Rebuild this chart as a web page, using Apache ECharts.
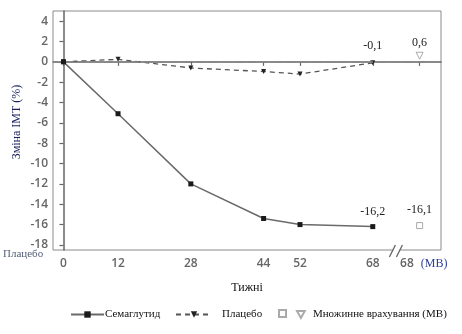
<!DOCTYPE html>
<html><head><meta charset="utf-8">
<script src="https://cdn.jsdelivr.net/npm/echarts@6/dist/echarts.min.js"></script>
<style>html,body{margin:0;padding:0;background:#fff}#c{width:462px;height:334px}</style>
</head><body><div id="c"></div>
<script>
const weeks = [0, 12, 28, 44, 52, 68];
const semaglutide = [0, -5.1, -12.0, -15.4, -16.0, -16.2];
const placebo = [0, 0.25, -0.6, -0.95, -1.2, -0.1];
const mbWeek = 78.3;           // position of the "68 (МВ)" column
const mbSemaglutide = -16.1;
const mbPlacebo = 0.6;
const yTicks = [-18, -16, -14, -12, -10, -8, -6, -4, -2, 0, 2, 4];
const xTickValues = [0, 12, 28, 44, 52, 68, 78.3];
const xLabelValues = [0, 12, 28, 44, 52, 68, 75.5, 81.5];
const xLabelText = ['0', '12', '28', '44', '52', '68', '68', '{mb|(МВ)}'];
const semaLabelText = '-16,2';
const placeboLabelText = '-0,1';
const mbSemaLabel = '-16,1';
const mbPlaceboLabel = '0,6';
const breakAt = 73.2;

const serif = '"Liberation Serif","Times New Roman",serif';
const sans = '"Open Sans","DejaVu Sans",sans-serif';
const chart = echarts.init(document.getElementById('c'));

const lblStyle = {fontFamily: serif, fontSize: 12, color: '#222'};
const downTri = 'path://M0,0L10,0L5,9Z';

chart.setOption({
  animation: false,
  grid: {left: 53, right: 21, top: 11, bottom: 84, show: true, borderColor: '#8a8a8a', borderWidth: 1},
  xAxis: {
    type: 'value', min: -2.3, max: 83,
    splitLine: {show: false},
    axisLine: {lineStyle: {color: '#666', width: 1.5}},
    axisTick: {show: true, length: 4, lineStyle: {color: '#666', width: 1.2}, customValues: xTickValues},
    axisLabel: {
      customValues: xLabelValues, margin: 8,
      fontFamily: sans, fontSize: 12, fontWeight: 600, color: '#666',
      formatter: v => { const i = xLabelValues.indexOf(v); return i >= 0 ? xLabelText[i] : ''; },
      rich: {mb: {fontFamily: serif, fontSize: 12, fontWeight: 'normal', color: '#2a3f9a'}}
    },
    name: 'Тижні', nameLocation: 'middle', nameGap: 32,
    nameTextStyle: {fontFamily: serif, fontSize: 12, color: '#111'}
  },
  yAxis: {
    type: 'value', min: -18.5, max: 5,
    splitLine: {show: false},
    axisLine: {show: true, lineStyle: {color: '#666', width: 1.5}},
    axisTick: {show: true, length: 4, lineStyle: {color: '#666', width: 1.2}, customValues: yTicks},
    axisLabel: {customValues: yTicks, margin: 5, fontFamily: sans, fontSize: 12, fontWeight: 600, color: '#666'}
  },
  legend: [
    {data: ['Семаглутид'], left: 70, top: 309, padding: 0, itemWidth: 33, itemHeight: 8, itemGap: 0,
     textStyle: {fontFamily: serif, fontSize: 11, color: '#111', padding: [10, 0, 0, -4]}},
    {data: ['Плацебо'], left: 175, top: 309, padding: 0, itemWidth: 36, itemHeight: 8,
     textStyle: {fontFamily: serif, fontSize: 11, color: '#111', padding: [0, 0, 0, 5]}},
    {data: [{name: 'МВ1', icon: 'rect'}], left: 278, top: 309, padding: 0, itemWidth: 7, itemHeight: 7, formatter: () => ''},
    {data: [{name: 'Множинне врахування (МВ)', icon: downTri}], left: 296, top: 309, padding: 0, itemWidth: 8, itemHeight: 7,
     textStyle: {fontFamily: serif, fontSize: 11, color: '#111', padding: [0, 0, 0, 3]}}
  ],
  graphic: [
    {type: 'text', left: 3, top: 249, style: {text: 'Плацебо', font: '11px ' + serif, fill: '#56607a'}},
    {type: 'text', x: 17, y: 122, rotation: Math.PI / 2, style: {text: 'Зміна ІМТ (%)', font: '12px ' + serif, fill: '#1c2460', align: 'center', verticalAlign: 'middle'}}
  ],
  series: [
    {
      name: 'Плацебо', type: 'line', z: 3,
      data: weeks.map((w, i) => ({
        value: [w, placebo[i]],
        label: i === weeks.length - 1 ? {show: true, position: 'top', distance: 9, formatter: placeboLabelText, ...lblStyle} : {show: false}
      })),
      symbol: 'triangle', symbolRotate: 180, symbolSize: 5,
      lineStyle: {color: '#555', width: 1.3, type: [5, 4]},
      itemStyle: {color: '#222'},
      markLine: {
        silent: true, symbol: 'none', label: {show: false},
        lineStyle: {color: '#888', width: 1.5, type: [8, 5]},
        data: [{yAxis: 0}]
      }
    },
    {
      name: 'Семаглутид', type: 'line', z: 4,
      data: weeks.map((w, i) => ({
        value: [w, semaglutide[i]],
        label: i === weeks.length - 1 ? {show: true, position: 'top', distance: 6, formatter: semaLabelText, ...lblStyle} : {show: false}
      })),
      symbol: 'rect', symbolSize: 5,
      lineStyle: {color: '#6a6a6a', width: 1.5},
      itemStyle: {color: '#1a1a1a'}
    },
    {
      name: 'МВ1', type: 'scatter', z: 4,
      data: [{value: [mbWeek, mbSemaglutide], label: {show: true, position: 'top', distance: 6, formatter: mbSemaLabel, ...lblStyle}}],
      symbol: 'rect', symbolSize: 6,
      itemStyle: {color: '#fff', borderColor: '#aaa', borderWidth: 1, opacity: 1}
    },
    {
      name: 'Множинне врахування (МВ)', type: 'scatter', z: 4,
      data: [{value: [mbWeek, mbPlacebo], label: {show: true, position: 'top', distance: 3, formatter: mbPlaceboLabel, ...lblStyle}}],
      symbol: 'triangle', symbolRotate: 180, symbolSize: 7,
      itemStyle: {color: '#fff', borderColor: '#aaa', borderWidth: 1, opacity: 1}
    },
    {
      type: 'custom', z: 10, clip: false, silent: true,
      data: [[breakAt, -18.5]],
      renderItem: (params, api) => {
        const p = api.coord([api.value(0), api.value(1)]);
        return {type: 'group', children: [
          {type: 'rect', shape: {x: p[0] - 3, y: p[1] - 2, width: 6, height: 4}, style: {fill: '#fff'}},
          {type: 'line', shape: {x1: p[0] - 7, y1: p[1] + 7, x2: p[0] - 1, y2: p[1] - 5}, style: {stroke: '#666', lineWidth: 1.3}},
          {type: 'line', shape: {x1: p[0] + 0, y1: p[1] + 7, x2: p[0] + 6, y2: p[1] - 5}, style: {stroke: '#666', lineWidth: 1.3}}
        ]};
      }
    }
  ]
});
</script></body></html>
